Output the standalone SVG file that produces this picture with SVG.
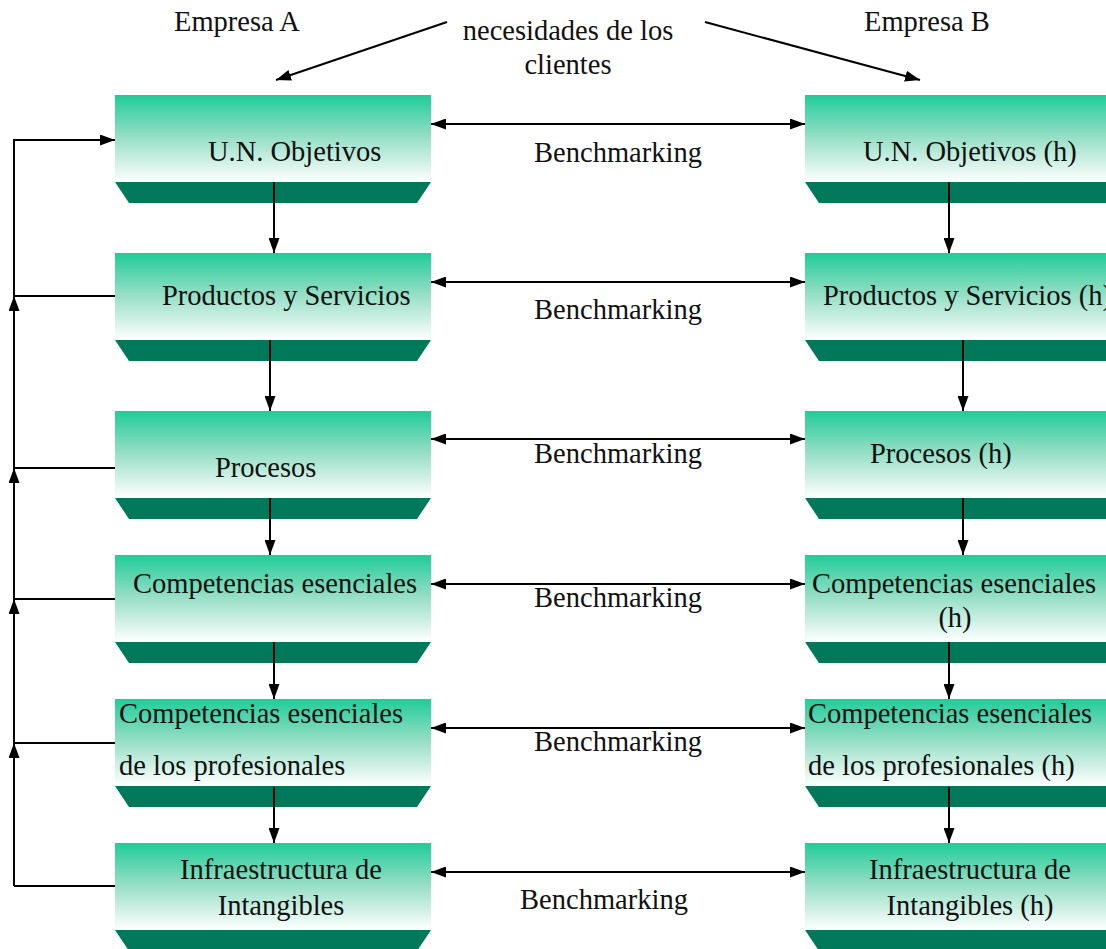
<svg xmlns="http://www.w3.org/2000/svg" width="1106" height="949" viewBox="0 0 1106 949">
  <style>
    text { font-family: "Liberation Serif", "Times New Roman", serif; font-size: 28.5px; fill: #111; }
    .wire { stroke: #000; stroke-width: 2; fill: none; }
    .band { fill: #00785A; }
  </style>
  <defs>
    <linearGradient id="boxFill" x1="0" y1="0" x2="0" y2="1">
      <stop offset="0" stop-color="#20CC99"/>
      <stop offset="0.45" stop-color="#8FDDC2"/>
      <stop offset="1" stop-color="#FFFFFF"/>
    </linearGradient>
    <marker id="head" viewBox="0 0 15 11" refX="15" refY="5.5" markerWidth="15" markerHeight="11" markerUnits="userSpaceOnUse" orient="auto-start-reverse">
      <path d="M0,0 L15,5.5 L0,11 Z" fill="#000"/>
    </marker>
    <!-- box shape: gradient panel with dark bevelled base -->
    <g id="boxL">
      <rect x="0" y="0" width="316" height="87" fill="url(#boxFill)"/>
      <path class="band" d="M0,87 L316,87 L302,108 L14,108 Z"/>
    </g>
  </defs>

  <!-- headings -->
  <text x="174" y="31">Empresa A</text>
  <text x="864" y="31">Empresa B</text>
  <text x="568" y="40" text-anchor="middle">necesidades de los</text>
  <text x="568" y="74" text-anchor="middle">clientes</text>

  <!-- Empresa A nodes -->
  <g id="a1"><use href="#boxL" x="115" y="95"/><text x="208" y="161">U.N. Objetivos</text></g>
  <g id="a2"><use href="#boxL" x="115" y="253"/><text x="162" y="305">Productos y Servicios</text></g>
  <g id="a3"><use href="#boxL" x="115" y="411"/><text x="215" y="477">Procesos</text></g>
  <g id="a4"><use href="#boxL" x="115" y="555"/><text x="133" y="593">Competencias esenciales</text></g>
  <g id="a5"><use href="#boxL" x="115" y="699"/><text x="119" y="723">Competencias esenciales</text><text x="119" y="775">de los profesionales</text></g>
  <g id="a6"><use href="#boxL" x="115" y="843"/><text x="281" y="879" text-anchor="middle">Infraestructura de</text><text x="281" y="915" text-anchor="middle">Intangibles</text></g>

  <!-- Empresa B nodes -->
  <g id="b1"><use href="#boxL" x="805" y="95"/><text x="863" y="161">U.N. Objetivos (h)</text></g>
  <g id="b2"><use href="#boxL" x="805" y="253"/><text x="823" y="305">Productos y Servicios (h)</text></g>
  <g id="b3"><use href="#boxL" x="805" y="411"/><text x="870" y="463">Procesos (h)</text></g>
  <g id="b4"><use href="#boxL" x="805" y="555"/><text x="812" y="593">Competencias esenciales</text><text x="955" y="627" text-anchor="middle">(h)</text></g>
  <g id="b5"><use href="#boxL" x="805" y="699"/><text x="808" y="723">Competencias esenciales</text><text x="808" y="775">de los profesionales (h)</text></g>
  <g id="b6"><use href="#boxL" x="805" y="843"/><text x="970" y="879" text-anchor="middle">Infraestructura de</text><text x="970" y="915" text-anchor="middle">Intangibles (h)</text></g>

  <!-- benchmarking labels -->
  <g id="labels">
    <text x="618" y="162" text-anchor="middle">Benchmarking</text>
    <text x="618" y="319" text-anchor="middle">Benchmarking</text>
    <text x="618" y="463" text-anchor="middle">Benchmarking</text>
    <text x="618" y="607" text-anchor="middle">Benchmarking</text>
    <text x="618" y="751" text-anchor="middle">Benchmarking</text>
    <text x="604" y="909" text-anchor="middle">Benchmarking</text>
  </g>

  <g id="connectors" class="wire">
    <!-- customer needs -->
    <line x1="447" y1="22" x2="276" y2="80" marker-end="url(#head)"/>
    <line x1="705" y1="22" x2="920" y2="80" marker-end="url(#head)"/>

    <!-- benchmarking links -->
    <line x1="431" y1="124" x2="805" y2="124" marker-start="url(#head)" marker-end="url(#head)"/>
    <line x1="431" y1="282" x2="805" y2="282" marker-start="url(#head)" marker-end="url(#head)"/>
    <line x1="431" y1="439" x2="805" y2="439" marker-start="url(#head)" marker-end="url(#head)"/>
    <line x1="431" y1="584" x2="805" y2="584" marker-start="url(#head)" marker-end="url(#head)"/>
    <line x1="431" y1="728" x2="805" y2="728" marker-start="url(#head)" marker-end="url(#head)"/>
    <line x1="431" y1="872" x2="805" y2="872" marker-start="url(#head)" marker-end="url(#head)"/>

    <!-- Empresa A chain -->
    <line x1="274" y1="182" x2="274" y2="253" marker-end="url(#head)"/>
    <line x1="270" y1="340" x2="270" y2="411" marker-end="url(#head)"/>
    <line x1="270" y1="498" x2="270" y2="555" marker-end="url(#head)"/>
    <line x1="274" y1="642" x2="274" y2="699" marker-end="url(#head)"/>
    <line x1="274" y1="787" x2="274" y2="843" marker-end="url(#head)"/>

    <!-- Empresa B chain -->
    <line x1="949" y1="182" x2="949" y2="253" marker-end="url(#head)"/>
    <line x1="963" y1="340" x2="963" y2="411" marker-end="url(#head)"/>
    <line x1="963" y1="498" x2="963" y2="555" marker-end="url(#head)"/>
    <line x1="949" y1="642" x2="949" y2="699" marker-end="url(#head)"/>
    <line x1="949" y1="787" x2="949" y2="843" marker-end="url(#head)"/>

    <!-- feedback loop on the left -->
    <line x1="115" y1="886" x2="14" y2="886"/>
    <line x1="14" y1="886" x2="14" y2="743" marker-end="url(#head)"/>
    <line x1="115" y1="743" x2="14" y2="743"/>
    <line x1="14" y1="743" x2="14" y2="599" marker-end="url(#head)"/>
    <line x1="115" y1="599" x2="14" y2="599"/>
    <line x1="14" y1="599" x2="14" y2="468" marker-end="url(#head)"/>
    <line x1="115" y1="468" x2="14" y2="468"/>
    <line x1="14" y1="468" x2="14" y2="296" marker-end="url(#head)"/>
    <line x1="115" y1="296" x2="14" y2="296"/>
    <polyline points="14,296 14,140 115,140" marker-end="url(#head)"/>
  </g>
</svg>
